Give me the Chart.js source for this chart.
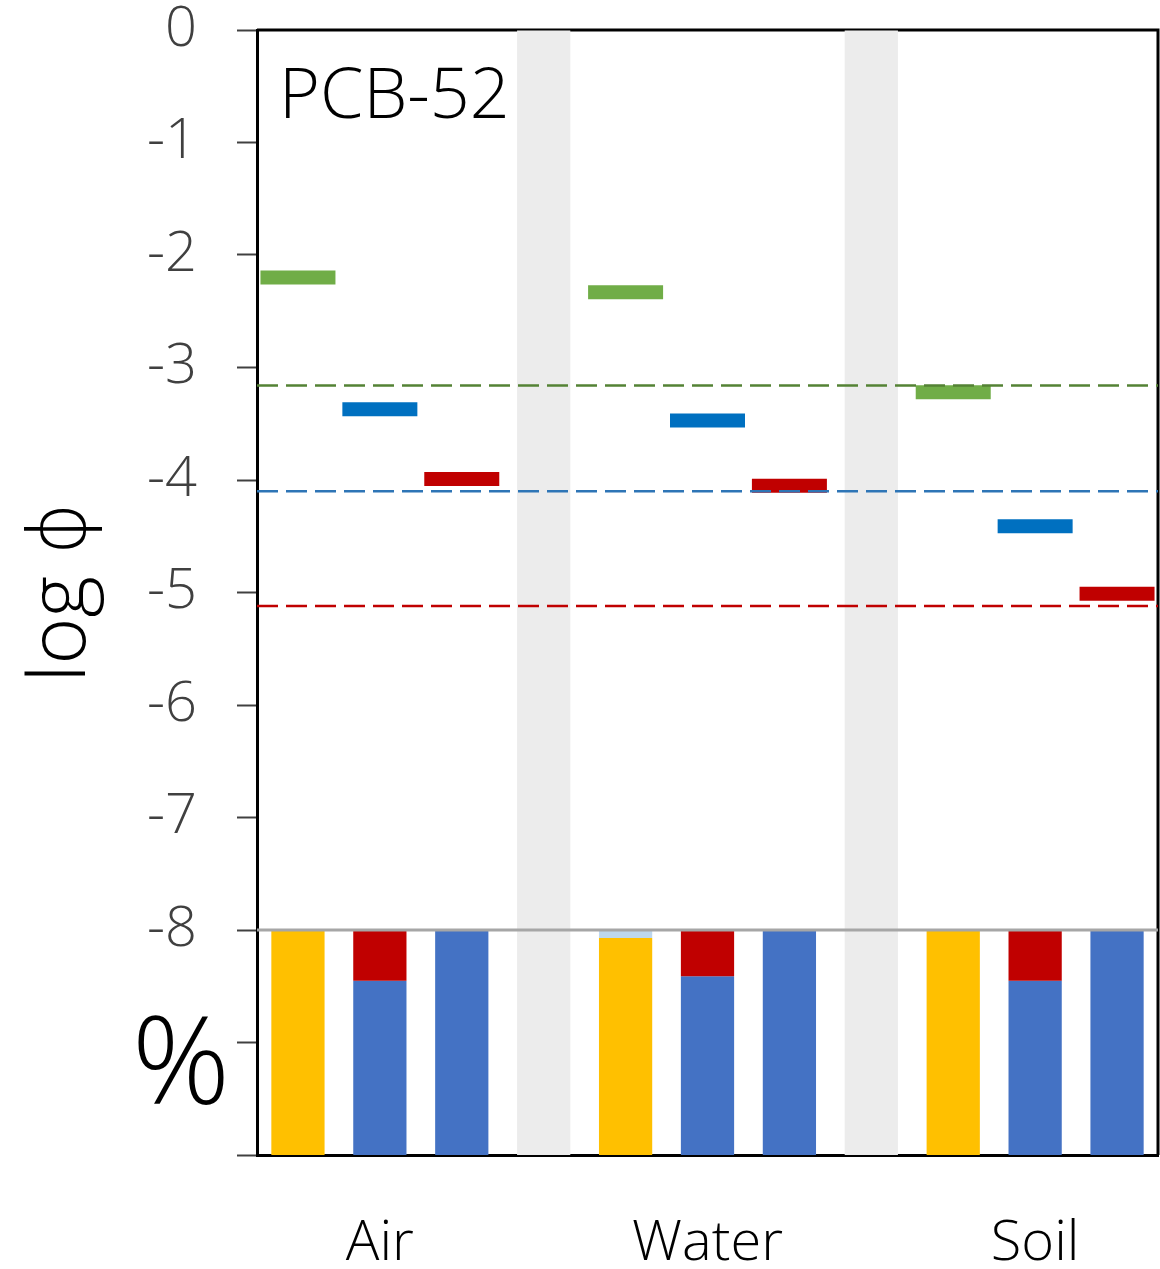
<!DOCTYPE html>
<html>
<head>
<meta charset="utf-8">
<script src="https://cdn.jsdelivr.net/npm/chart.js@4/dist/chart.umd.min.js"></script>
<style>
  html, body { margin: 0; padding: 0; background: #fff; }
  #wrap { width: 1160px; height: 1269px; }
</style>
</head>
<body>
<div id="wrap"><canvas id="pcb"></canvas></div>
<script>
// categories
var media = ["Air", "Water", "Soil"];

// log phi per medium (short horizontal marks)
var logGreen = [-2.20, -2.33, -3.22];
var logBlue = [-3.37, -3.47, -4.41];
var logRed = [-3.99, -4.05, -5.01];

// dashed reference levels
var refGreen = -3.16;
var refBlue = -4.10;
var refRed = -5.12;

// % bars (3 bars per medium), share from top in percent
var pctLightBlue = [0, 3.5, 0];      // bar 1, top piece
var pctYellow = [100, 96.5, 100];    // bar 1, rest
var pctRed = [22.5, 20.5, 22.5];     // bar 2, top piece
var pctBlue2 = [77.5, 79.5, 77.5];   // bar 2, rest
var pctBlue3 = [100, 100, 100];      // bar 3

var FONT = "'Open Sans', 'DejaVu Sans', sans-serif";

// 11 slots: 3 per medium + separator
var slotLabels = [];
media.forEach(function(m, i){
    slotLabels.push("", m, "");
    if (i < media.length - 1) slotLabels.push("");
});
var nSlots = slotLabels.length;

function emptySlots(){
    var a = [];
    for (var i = 0; i < nSlots; i++) a.push(null);
    return a;
}
function markerData(vals, k){
    var a = emptySlots();
    vals.forEach(function(v, i){ a[i*4 + k] = v; });
    return a;
}
// percent -> axis value, 100% spans -8 .. -10
function pctToAxis(p){ return -8 - p/50; }
function pctBar(top, share, k){
    var a = emptySlots();
    share.forEach(function(p, i){
        if (p > 0) {
            var t = top ? top[i] : 0;
            a[i*4 + k] = [pctToAxis(t), pctToAxis(t + p)];
        }
    });
    return a;
}
var bands = emptySlots();
for (var i = 0; i < nSlots; i++) if (i % 4 === 3) bands[i] = [-10, 0];

function refLine(v, color){
    return {
        type: 'line', xAxisID: 'x2', order: 0,
        data: [{x: 0, y: v}, {x: 1, y: v}],
        borderColor: color, borderWidth: 2.5, borderDash: [21, 8],
        pointRadius: 0, fill: false
    };
}
function marker(vals, k, color){
    return {
        type: 'line', order: 1, showLine: false,
        data: markerData(vals, k),
        pointStyle: 'line', pointRadius: 37.5, pointHoverRadius: 37.5,
        pointBorderWidth: 14, pointHoverBorderWidth: 14,
        pointBorderColor: color, pointBackgroundColor: color
    };
}
function pctSet(data, color){
    return {
        type: 'bar', order: 2, grouped: false,
        data: data, backgroundColor: color,
        barPercentage: 0.65, categoryPercentage: 1
    };
}
function noPad(s){
    s.paddingLeft = 0; s.paddingRight = 0; s.paddingTop = 0; s.paddingBottom = 0;
}

// frame top / right, drawn under the bars like the axis lines
var framePlugin = {
    id: 'frame',
    beforeDatasetsDraw: function(chart){
        var a = chart.chartArea, ctx = chart.ctx;
        ctx.save();
        ctx.strokeStyle = '#000';
        ctx.lineWidth = 3;
        ctx.beginPath();
        ctx.moveTo(a.left, a.top);
        ctx.lineTo(a.right, a.top);
        ctx.lineTo(a.right, a.bottom);
        ctx.stroke();
        ctx.restore();
    },
    afterDraw: function(chart){
        var a = chart.chartArea, ctx = chart.ctx, y = chart.scales.y;
        ctx.save();
        ctx.fillStyle = '#000';
        ctx.textBaseline = 'alphabetic';
        ctx.font = '300 70px ' + FONT;
        ctx.textAlign = 'left';
        ctx.fillText('PCB-52', a.left + 22, a.top + 88);
        ctx.font = '300 122px ' + FONT;
        ctx.textAlign = 'center';
        ctx.fillText('%', a.left - 76, y.getPixelForValue(-9.55));
        ctx.restore();
    }
};

new Chart(document.getElementById("pcb"), {
    type: 'bar',
    data: {
        labels: slotLabels,
        datasets: [
            refLine(refGreen, '#548235'),
            refLine(refBlue, '#2e75b6'),
            refLine(refRed, '#c00000'),
            {
                type: 'line', xAxisID: 'x2', order: 1,
                data: [{x: 0, y: -8}, {x: 1, y: -8}],
                borderColor: '#a6a6a6', borderWidth: 3, pointRadius: 0
            },
            marker(logGreen, 0, '#70ad47'),
            marker(logBlue, 1, '#0070c0'),
            marker(logRed, 2, '#c00000'),
            pctSet(pctBar(null, pctLightBlue, 0), '#bdd7ee'),
            pctSet(pctBar(pctLightBlue, pctYellow, 0), '#ffc000'),
            pctSet(pctBar(null, pctRed, 1), '#c00000'),
            pctSet(pctBar(pctRed, pctBlue2, 1), '#4472c4'),
            pctSet(pctBar(null, pctBlue3, 2), '#4472c4'),
            {
                type: 'bar', order: 3, grouped: false,
                data: bands, backgroundColor: '#ececec',
                barPercentage: 0.65, categoryPercentage: 1
            }
        ]
    },
    options: {
        responsive: true,
        maintainAspectRatio: false,
        animation: false,
        layout: { autoPadding: false, padding: { top: 30, right: 2, left: 0, bottom: 0 } },
        plugins: { legend: { display: false }, tooltip: { enabled: false } },
        scales: {
            x: {
                type: 'category',
                grid: { display: false, drawTicks: false },
                border: { display: true, color: '#000', width: 3 },
                ticks: {
                    autoSkip: false, maxRotation: 0, minRotation: 0, padding: 55,
                    color: '#000', font: { family: FONT, size: 56, weight: 300 }
                },
                afterFit: function(s){ noPad(s); s.height = 114; }
            },
            x2: {
                type: 'linear', display: false, offset: false, min: 0, max: 1,
                grid: { offset: false },
                afterFit: function(s){ noPad(s); }
            },
            y: {
                min: -10, max: 0,
                ticks: {
                    stepSize: 1, padding: 40,
                    color: '#404040', font: { family: FONT, size: 56, weight: 300 },
                    callback: function(v){ return v < -8 ? '' : String(v); }
                },
                grid: { drawOnChartArea: false, tickLength: 20, tickWidth: 2, tickColor: '#404040' },
                border: { color: '#000', width: 3 },
                title: {
                    display: true, text: 'log \u03d5', color: '#000',
                    font: { family: FONT, size: 80, weight: 300 },
                    padding: { top: 14, bottom: 0 }
                },
                afterFit: function(s){ noPad(s); s.width = 257; }
            }
        }
    },
    plugins: [framePlugin]
});
</script>
</body>
</html>
